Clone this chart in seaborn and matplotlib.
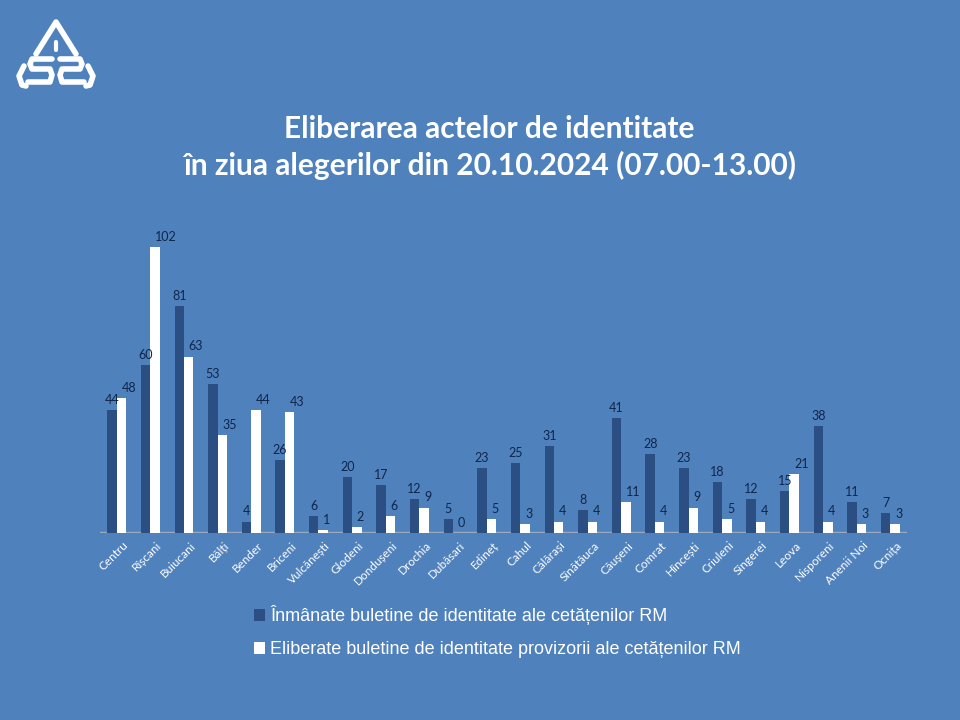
import matplotlib
matplotlib.use("Agg")
import matplotlib.pyplot as plt
from matplotlib.patches import Patch
from matplotlib.lines import Line2D
from matplotlib.transforms import ScaledTranslation
import seaborn as sns
import pandas as pd

raioane = ["Centru", "Rîșcani", "Buiucani", "Bălți", "Bender", "Briceni", "Vulcănești",
           "Glodeni", "Dondușeni", "Drochia", "Dubăsari", "Edineț", "Cahul", "Călărași",
           "Sînătăuca", "Căușeni", "Comrat", "Hîncești", "Criuleni", "Sîngerei", "Leova",
           "Nisporeni", "Anenii Noi", "Ocnița"]
inmanate = [44, 60, 81, 53, 4, 26, 6, 20, 17, 12, 5, 23, 25, 31, 8, 41, 28, 23, 18, 12, 15, 38, 11, 7]
provizorii = [48, 102, 63, 35, 44, 43, 1, 2, 6, 9, 0, 5, 3, 4, 4, 11, 4, 9, 5, 4, 21, 4, 3, 3]
serie1 = "Înmânate buletine de identitate ale cetățenilor RM"
serie2 = "Eliberate buletine de identitate provizorii ale cetățenilor RM"
titlu = "Eliberarea actelor de identitate\nîn ziua alegerilor din 20.10.2024 (07.00-13.00)"

BG = "#4f81bd"
DARK = "#2b4f82"
WHITE = "#ffffff"
LABEL = "#10264a"

df = pd.DataFrame({
    "raion": raioane * 2,
    "valoare": inmanate + provizorii,
    "serie": [serie1] * len(raioane) + [serie2] * len(raioane),
})

sns.set_theme(style="white")
plt.rcParams["font.family"] = ["Lato", "DejaVu Sans"]

fig = plt.figure(figsize=(9.6, 7.2), dpi=100, facecolor=BG)
ax = fig.add_axes([0.104, 0.26, 0.841, 0.4275])
ax.set_facecolor(BG)

sns.barplot(data=df, x="raion", y="valoare", hue="serie", hue_order=[serie1, serie2],
            palette=[DARK, WHITE], width=0.56, saturation=1, ax=ax, legend=False,
            edgecolor="none")

for i, cont in enumerate(ax.containers):
    labels = ax.bar_label(cont, padding=3, fontsize=9, color=LABEL)
    for t in labels:
        if i == 1:
            t.set_ha("left")
        else:
            t.set_ha("center")
            t.set_transform(t.get_transform() + ScaledTranslation(-2 / 100, 0, fig.dpi_scale_trans))

ax.set_xlim(-0.5, len(raioane) - 0.5)
ax.set_ylim(0, 110)
ax.set_xlabel("")
ax.set_ylabel("")
ax.set_yticks([])
for s in ax.spines.values():
    s.set_visible(False)
ax.axhline(0, color="#9aa9bd", lw=2.5, zorder=0)
ax.tick_params(axis="x", length=0, pad=5)
ax.set_xticks(range(len(raioane)))
ax.set_xticklabels(raioane, rotation=45, ha="right", rotation_mode="anchor",
                   fontsize=8.5, color="white", family=["Lato", "DejaVu Sans"])
for t in ax.get_xticklabels():
    t.set_transform(t.get_transform() + ScaledTranslation(6 / 100, 0, fig.dpi_scale_trans))

fig.text(0.51, 0.795, titlu, ha="center", va="center", color="white",
         fontsize=21.5, fontweight="bold", linespacing=1.3)

handles = [Patch(facecolor=DARK, edgecolor="none", label=serie1),
           Patch(facecolor=WHITE, edgecolor="none", label=serie2)]
leg = fig.legend(handles=handles, loc="upper left", bbox_to_anchor=(0.255, 0.172),
                 bbox_transform=fig.transFigure, frameon=False, handlelength=0.6,
                 handleheight=0.6, handletextpad=0.3, labelspacing=0.9, borderpad=0,
                 prop={"family": ["Liberation Sans", "DejaVu Sans"], "size": 13})
for t in leg.get_texts():
    t.set_color("white")

# logo
H = 720.0
W = 960.0
def fx(x):
    return x / W
def fy(y):
    return 1 - y / H
lw = 4
fig.add_artist(Line2D([fx(36), fx(56), fx(76)], [fy(54), fy(22), fy(54)], color="white", lw=lw,
                      transform=fig.transFigure, solid_joinstyle="round", solid_capstyle="round"))
fig.add_artist(Line2D([fx(56), fx(56)], [fy(42), fy(50)], color="white", lw=3,
                      transform=fig.transFigure))
s_x = [52, 32, 30, 32, 50, 52, 50, 28]
s_y = [59, 59, 64, 69, 69, 75, 82, 82]
fig.add_artist(Line2D([fx(v) for v in s_x], [fy(v) for v in s_y], color="white", lw=lw,
                      transform=fig.transFigure, solid_joinstyle="round"))
t_x = [60, 80, 82, 80, 62, 60, 62, 84]
t_y = [59, 59, 64, 69, 69, 75, 82, 82]
fig.add_artist(Line2D([fx(v) for v in t_x], [fy(v) for v in t_y], color="white", lw=lw,
                      transform=fig.transFigure, solid_joinstyle="round"))
fig.add_artist(Line2D([fx(24), fx(19), fx(22), fx(26)], [fy(66), fy(76), fy(85), fy(86)],
                      color="white", lw=lw, transform=fig.transFigure, solid_capstyle="round"))
fig.add_artist(Line2D([fx(88), fx(93), fx(90), fx(86)], [fy(66), fy(76), fy(85), fy(86)],
                      color="white", lw=lw, transform=fig.transFigure, solid_capstyle="round"))

fig.savefig("out.png", dpi=100, facecolor=BG)
